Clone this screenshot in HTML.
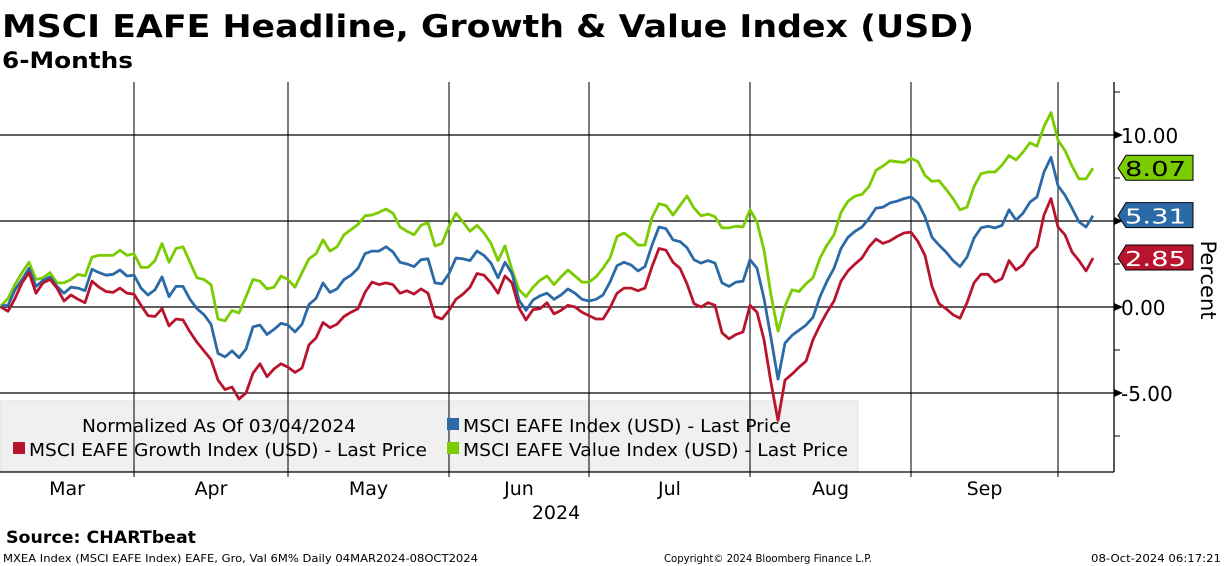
<!DOCTYPE html>
<html><head><meta charset="utf-8"><style>
html,body{margin:0;padding:0;background:#fff;}
svg{display:block;font-family:"DejaVu Sans","Liberation Sans",sans-serif;}
</style></head><body>
<svg id="chart" width="1224" height="566" viewBox="0 0 1224 566">
<text x="2" y="37" font-size="31" font-weight="bold" textLength="972" lengthAdjust="spacingAndGlyphs">MSCI EAFE Headline, Growth &amp; Value Index (USD)</text>
<text x="2" y="68" font-size="22" font-weight="bold" textLength="131" lengthAdjust="spacingAndGlyphs">6-Months</text>
<g id="grid"></g>
<rect x="0" y="401" width="858" height="70" fill="#f0f0f0" stroke="#e2e2e2"/>
<g id="vgrid"></g>
<g id="series"></g>
<g>
<text x="82" y="432" font-size="18" textLength="274" lengthAdjust="spacingAndGlyphs">Normalized As Of 03/04/2024</text>
<rect x="13" y="442" width="12" height="12" fill="#b8142e"/>
<text x="29" y="456" font-size="18" textLength="398" lengthAdjust="spacingAndGlyphs">MSCI EAFE Growth Index (USD) - Last Price</text>
<rect x="447" y="418" width="12" height="12" fill="#2b6aa6"/>
<text x="463" y="432" font-size="18" textLength="328" lengthAdjust="spacingAndGlyphs">MSCI EAFE Index (USD) - Last Price</text>
<rect x="447" y="442" width="12" height="12" fill="#7acc00"/>
<text x="463" y="456" font-size="18" textLength="385" lengthAdjust="spacingAndGlyphs">MSCI EAFE Value Index (USD) - Last Price</text>
</g>
<g id="axes"></g>
<text x="1201" y="280" font-size="21" transform="rotate(90 1201 280)" text-anchor="middle">Percent</text>
<text x="556" y="519" font-size="19" text-anchor="middle">2024</text>
<text x="6" y="543" font-size="17" font-weight="bold" textLength="190" lengthAdjust="spacingAndGlyphs">Source: CHARTbeat</text>
<text x="3" y="562" font-size="11" textLength="475" lengthAdjust="spacingAndGlyphs">MXEA Index (MSCI EAFE Index) EAFE, Gro, Val 6M%  Daily 04MAR2024-08OCT2024</text>
<text x="664" y="562" font-size="11" textLength="208" lengthAdjust="spacingAndGlyphs">Copyright© 2024 Bloomberg Finance L.P.</text>
<text x="1221" y="562" font-size="11" text-anchor="end" textLength="130" lengthAdjust="spacingAndGlyphs">08-Oct-2024 06:17:21</text>
</svg>
<script>
const yTicks = [10, 5, 0, -5];
const yTickLabels = ["10.00", "", "0.00", "-5.00"];
const months = ["Mar", "Apr", "May", "Jun", "Jul", "Aug", "Sep"];
const monthStartIdx = [0, 19, 41, 64, 84, 107, 130, 151];
const valueSeries = [0.06,0.5,1.3,2.0,2.6,1.6,1.7,2.0,1.4,1.4,1.6,1.9,1.8,2.9,3.0,3.0,3.0,3.3,3.0,3.1,2.3,2.3,2.7,3.7,2.6,3.4,3.5,2.6,1.7,1.6,1.3,-0.7,-0.8,-0.2,-0.35,0.6,1.6,1.5,1.05,1.15,1.8,1.6,1.15,2.0,2.8,3.1,3.9,3.25,3.5,4.2,4.5,4.8,5.3,5.35,5.5,5.7,5.45,4.65,4.4,4.2,4.75,4.9,3.55,3.7,4.7,5.45,4.95,4.4,4.75,4.3,3.7,2.7,3.55,2.15,1.0,0.6,1.15,1.55,1.8,1.3,1.75,2.15,1.8,1.45,1.45,1.75,2.25,2.85,4.1,4.3,4.0,3.6,3.6,5.2,6.0,5.9,5.35,5.9,6.45,5.75,5.3,5.4,5.25,4.6,4.6,4.7,4.65,5.65,4.95,3.3,0.7,-1.4,0.05,1.0,0.9,1.35,1.7,2.85,3.6,4.2,5.5,6.15,6.45,6.55,7.0,7.95,8.2,8.5,8.45,8.4,8.65,8.45,7.65,7.3,7.35,6.85,6.3,5.65,5.8,7.0,7.75,7.85,7.85,8.25,8.8,8.55,9.0,9.55,9.35,10.5,11.3,9.7,9.1,8.2,7.45,7.45,8.07];
const headlineSeries = [0.05,0.1,1.0,1.6,2.25,1.2,1.55,1.75,1.2,0.8,1.15,1.1,0.95,2.2,2.0,1.85,1.9,2.15,1.8,1.85,1.1,0.7,1.0,1.75,0.6,1.2,1.2,0.45,-0.1,-0.45,-1.0,-2.7,-2.9,-2.55,-2.95,-2.45,-1.15,-1.05,-1.6,-1.3,-0.95,-1.05,-1.45,-1.0,0.15,0.5,1.4,0.85,1.05,1.6,1.85,2.25,3.1,3.25,3.25,3.5,3.2,2.6,2.5,2.35,2.75,2.8,1.4,1.35,1.95,2.85,2.8,2.7,3.25,3.0,2.55,1.7,2.6,1.95,0.4,-0.2,0.4,0.65,0.8,0.45,0.7,1.05,0.8,0.45,0.35,0.45,0.7,1.45,2.4,2.6,2.45,2.1,2.35,3.6,4.65,4.55,3.9,3.8,3.45,2.75,2.55,2.7,2.55,1.4,1.2,1.45,1.5,2.75,2.25,0.5,-1.8,-4.2,-2.1,-1.65,-1.35,-1.05,-0.6,0.6,1.5,2.25,3.4,4.05,4.4,4.65,5.15,5.75,5.8,6.05,6.15,6.3,6.4,6.05,5.25,4.05,3.6,3.2,2.7,2.35,2.9,4.0,4.6,4.7,4.6,4.75,5.65,5.05,5.45,6.1,6.4,7.85,8.7,7.05,6.5,5.75,4.95,4.65,5.31];
const growthSeries = [0.0,-0.25,0.5,1.4,2.0,0.8,1.4,1.6,1.1,0.35,0.7,0.45,0.25,1.5,1.15,0.9,0.85,1.1,0.8,0.75,0.1,-0.5,-0.55,-0.1,-1.1,-0.7,-0.75,-1.45,-2.05,-2.55,-3.05,-4.25,-4.8,-4.65,-5.35,-5.0,-3.85,-3.3,-4.05,-3.6,-3.3,-3.5,-3.8,-3.55,-2.2,-1.8,-0.9,-1.2,-1.0,-0.55,-0.3,-0.1,0.85,1.45,1.3,1.4,1.3,0.8,0.95,0.75,1.05,0.8,-0.55,-0.7,-0.2,0.45,0.75,1.15,1.95,1.85,1.4,0.8,1.8,1.4,-0.05,-0.75,-0.15,-0.1,0.25,-0.4,-0.2,0.1,0.0,-0.3,-0.5,-0.7,-0.7,-0.05,0.8,1.1,1.1,0.95,1.1,2.35,3.4,3.3,2.6,2.25,1.35,0.2,0.0,0.25,0.1,-1.5,-1.85,-1.6,-1.45,0.1,-0.3,-1.9,-4.4,-6.6,-4.25,-3.9,-3.5,-3.15,-1.9,-1.05,-0.3,0.35,1.5,2.1,2.5,2.85,3.5,3.95,3.7,3.85,4.1,4.3,4.35,3.8,3.0,1.2,0.2,-0.1,-0.45,-0.65,0.25,1.4,1.9,1.9,1.45,1.65,2.7,2.15,2.45,3.1,3.5,5.35,6.3,4.65,4.2,3.2,2.7,2.1,2.85];

const NS = "http://www.w3.org/2000/svg";
const X0 = 1, DX = 7.0, Y0 = 307, PPU = 17.2, AXX = 1114, TOP = 82, BOT = 472;
function xScale(i){ return X0 + i*DX; }
function yScale(v){ return Y0 - v*PPU; }
function mk(tag, attrs, parent){ const e = document.createElementNS(NS, tag); for (const k in attrs) e.setAttribute(k, attrs[k]); parent.appendChild(e); return e; }

const grid = document.getElementById('grid');
const vgrid = document.getElementById('vgrid');
const axes = document.getElementById('axes');
const series = document.getElementById('series');

yTicks.forEach((t, k) => {
  const ln = mk('line', {x1:0, x2:AXX, y1:yScale(t), y2:yScale(t), stroke:'#000', 'stroke-width':1.3}, grid);
  
  
  const ar = mk('path', {d:`M${AXX} ${yScale(t)-4}L${AXX+9} ${yScale(t)}L${AXX} ${yScale(t)+4}Z`, fill:'#000'}, axes);
  
  
  if (yTickLabels[k]) {
    const tx = mk('text', {x:AXX+7, y:yScale(t)+8, 'font-size':20}, axes);
    tx.textContent = yTickLabels[k];
    
    
  }
});
for (let v = -7.5; v <= 12.5; v += 5) {
  const mt = mk('line', {x1:AXX, x2:AXX+6, y1:yScale(v), y2:yScale(v), stroke:'#000', 'stroke-width':1}, axes);
  
  
}
const yl = mk('line', {x1:AXX, x2:AXX, y1:TOP, y2:BOT, stroke:'#000', 'stroke-width':1.3}, axes);


const xl = mk('line', {x1:0, x2:AXX, y1:BOT, y2:BOT, stroke:'#000', 'stroke-width':1.3}, axes);



for (let m = 1; m < monthStartIdx.length; m++) {
  const xv = xScale(monthStartIdx[m]);
  const gl = mk('line', {x1:xv, x2:xv, y1:TOP, y2:BOT+5, stroke:'#000', 'stroke-width':1.2, 'stroke-opacity':0.85}, vgrid);
  
  
}
months.forEach((name, m) => {
  const a = m === 0 ? 0 : xScale(monthStartIdx[m]);
  const b = xScale(monthStartIdx[m+1]);
  const tx = mk('text', {x:(a+b)/2, y:495, 'font-size':19, 'text-anchor':'middle'}, axes);
  tx.textContent = name;
  
  
});

function drawLine(vals, color, name){
  const d = vals.map((v, i) => (i ? 'L' : 'M') + xScale(i).toFixed(1) + ' ' + yScale(v).toFixed(1)).join('');
  const p = mk('path', {d, fill:'none', stroke:color, 'stroke-width':2.8, 'stroke-linejoin':'round'}, series);
  
  
}
drawLine(valueSeries, '#7acc00', 'value-index-line');
drawLine(headlineSeries, '#2b6aa6', 'headline-index-line');
drawLine(growthSeries, '#b8142e', 'growth-index-line');

function tag(vals, color, txtColor, name){
  const v = vals[vals.length-1], y = yScale(v);
  const g = mk('g', {}, axes);
  
  
  mk('path', {d:`M${AXX+4} ${y}L${AXX+12} ${y-13}L${AXX+79} ${y-13}L${AXX+79} ${y+12}L${AXX+12} ${y+12}Z`, fill:color, stroke:'#000', 'stroke-width':1}, g);
  const t = mk('text', {x:AXX+11, y:y+8, 'font-size':20, fill:txtColor, textLength:61, lengthAdjust:'spacingAndGlyphs'}, g);
  t.textContent = v.toFixed(2);
}
tag(valueSeries, '#7acc00', '#000', 'value-last-price-tag');
tag(headlineSeries, '#2b6aa6', '#fff', 'headline-last-price-tag');
tag(growthSeries, '#b8142e', '#fff', 'growth-last-price-tag');
</script>
</body></html>
